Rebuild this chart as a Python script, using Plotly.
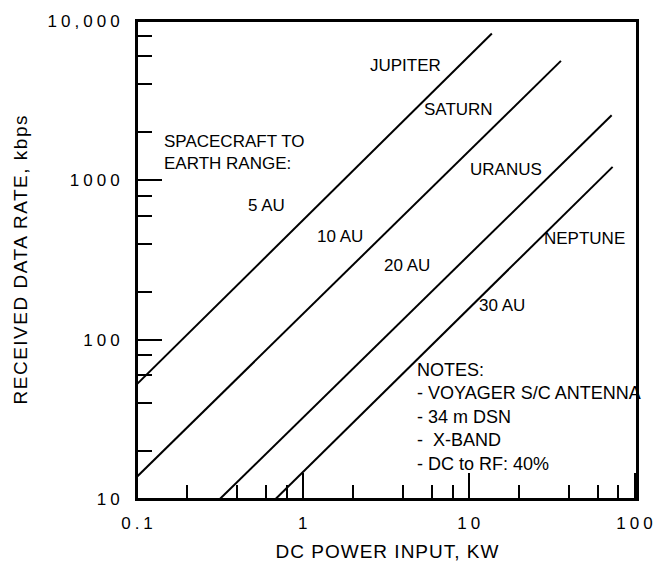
import plotly.graph_objects as go

# ---- data ----
planets = ["JUPITER", "SATURN", "URANUS", "NEPTUNE"]
ranges_au = ["5 AU", "10 AU", "20 AU", "30 AU"]
power_start_kw = [0.1, 0.1, 0.316, 0.685]
power_end_kw = [13.8, 36.0, 72.8, 73.8]
rate_start_kbps = [52.6, 13.8, 10.0, 10.0]
rate_end_kbps = [8340, 5620, 2560, 1215]

x_major = [0.1, 1, 10, 100]
x_major_text = ["0.1", "1", "10", "100"]
x_minor = [0.2, 0.4, 0.6, 0.8, 2, 4, 6, 8, 20, 40, 60, 80]
y_major = [10, 100, 1000, 10000]
y_major_text = ["10", "100", "1000", "10,000"]
y_minor = [20, 40, 60, 80, 200, 400, 600, 800, 2000, 4000, 6000, 8000]

range_title = "SPACECRAFT TO<br>EARTH RANGE:"
notes = ["NOTES:", "- VOYAGER S/C ANTENNA", "- 34 m DSN", "-  X-BAND", "- DC to RF: 40%"]

# label placement (paper fractions)
planet_pos = [(0.537, 0.906), (0.643, 0.815), (0.738, 0.690), (0.895, 0.546)]
range_pos = [(0.258, 0.615), (0.406, 0.550), (0.540, 0.489), (0.730, 0.405)]

FONT = "Liberation Sans, Arial, Helvetica, sans-serif"

fig = go.Figure()
for i in range(len(planets)):
    fig.add_trace(go.Scatter(
        x=[power_start_kw[i], power_end_kw[i]],
        y=[rate_start_kbps[i], rate_end_kbps[i]],
        mode="lines", line=dict(color="black", width=2),
        name=planets[i], showlegend=False, hoverinfo="skip"))

annotations = []
for name, (ax, ay) in zip(planets, planet_pos):
    annotations.append(dict(text=name, x=ax, y=ay, xref="paper", yref="paper",
                            showarrow=False, xanchor="center", yanchor="middle",
                            font=dict(size=17, color="black", family=FONT)))
for name, (ax, ay) in zip(ranges_au, range_pos):
    annotations.append(dict(text=name, x=ax, y=ay, xref="paper", yref="paper",
                            showarrow=False, xanchor="center", yanchor="middle",
                            font=dict(size=17, color="black", family=FONT)))
annotations.append(dict(text=range_title, x=0.0496, y=0.725, xref="paper", yref="paper",
                        showarrow=False, xanchor="left", yanchor="middle", align="left",
                        font=dict(size=17, color="black", family=FONT)))
annotations.append(dict(text="<br>".join(notes), x=0.556, y=0.171, xref="paper", yref="paper",
                        showarrow=False, xanchor="left", yanchor="middle", align="left",
                        font=dict(size=18, color="black", family=FONT)))

axis_common = dict(
    type="log", tickmode="array", ticks="inside", tickwidth=1.5, tickcolor="black",
    showline=True, linecolor="black", linewidth=2, mirror=True,
    showgrid=False, zeroline=False,
    tickfont=dict(size=17, color="black", family=FONT),
)

fig.update_layout(
    width=661, height=571,
    margin=dict(l=137, r=20, t=16, b=64),
    paper_bgcolor="white", plot_bgcolor="white",
    font=dict(family=FONT, color="black"),
    annotations=annotations,
    shapes=[dict(type="rect", xref="paper", yref="paper", x0=0, y0=0, x1=1, y1=1,
                 line=dict(color="black", width=2), layer="above")],
    xaxis=dict(axis_common, range=[-1, 2.015], tickvals=x_major, ticktext=x_major_text,
               ticklen=26, ticklabelstandoff=8,
               minor=dict(tickmode="array", tickvals=x_minor, ticks="inside", ticklen=14,
                          tickwidth=1.5, tickcolor="black", showgrid=False),
               title=dict(text="DC POWER INPUT, KW", font=dict(size=19, color="black", family=FONT),
                          standoff=12)),
    yaxis=dict(axis_common, range=[1, 4], tickvals=y_major, ticktext=y_major_text,
               ticklen=25, ticklabelstandoff=12,
               minor=dict(tickmode="array", tickvals=y_minor, ticks="inside", ticklen=15,
                          tickwidth=1.5, tickcolor="black", showgrid=False),
               title=dict(text="RECEIVED DATA RATE, kbps", font=dict(size=19, color="black", family=FONT),
                          standoff=35)),
)

post = """
document.documentElement.style.margin = '0';
document.body.style.margin = '0';
document.body.style.overflow = 'hidden';
var gd = document.getElementById('{plot_id}');
function spaceOut(t, sp, mode) {
  var b0 = t.getBBox();
  t.style.letterSpacing = sp + 'px';
  var b1 = t.getBBox();
  var shift;
  if (mode === 'end') { shift = (b1.x + b1.width) - (b0.x + b0.width) - sp; }
  else { shift = (b1.x + b1.width / 2) - (b0.x + b0.width / 2) - sp / 2; }
  var x = parseFloat(t.getAttribute('x') || '0');
  t.setAttribute('x', x - shift);
}
gd.querySelectorAll('.xtick text').forEach(function(t){ spaceOut(t, 4, 'middle'); });
gd.querySelectorAll('.ytick text').forEach(function(t){ spaceOut(t, 4, 'end'); });
gd.querySelectorAll('.xtitle').forEach(function(t){ spaceOut(t, 1, 'middle'); });
gd.querySelectorAll('.ytitle').forEach(function(t){ spaceOut(t, 1.5, 'middle'); });
"""

fig.write_html("out.html", post_script=post, config={"displayModeBar": False})
